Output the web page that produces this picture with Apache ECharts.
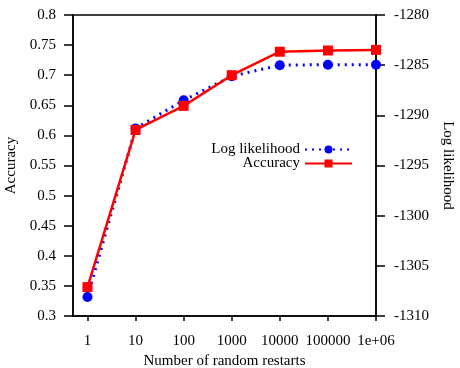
<!DOCTYPE html>
<html>
<head>
<meta charset="utf-8">
<script src="https://cdn.jsdelivr.net/npm/echarts@6/dist/echarts.min.js"></script>
<style>
  html, body { margin: 0; padding: 0; background: #fff; }
  #main { width: 460px; height: 368px; }
</style>
</head>
<body>
<div id="main"></div>
<script>
// restarts on the x axis
var restarts = [1, 10, 100, 1000, 10000, 100000, 1000000]
var restartLabels = ['1', '10', '100', '1000', '10000', '100000', '1e+06']
// left axis
var accuracy = [0.348, 0.609, 0.649, 0.700, 0.739, 0.741, 0.742]
// right axis
var logLikelihood = [-1308.1, -1291.3, -1288.5, -1286.1, -1285.0, -1284.95, -1284.95]

var font = 'Liberation Serif'
var fs = 15
var myChart = echarts.init(document.getElementById('main'))

var option = {
  backgroundColor: '#fff',
  textStyle: { fontFamily: font },
  animation: false,
  grid: {
    left: 73,
    right: 84,
    top: 15,
    bottom: 52,
    outerBoundsMode: 'none',
    containLabel: false,
    show: true,
    borderColor: '#000',
    borderWidth: 1.5
  },
  legend: {
    orient: 'vertical',
    right: 102,
    top: 137,
    align: 'right',
    itemWidth: 47,
    itemHeight: 10,
    itemGap: -1,
    textStyle: { fontFamily: font, fontSize: fs, color: '#000' },
    data: ['Log likelihood', 'Accuracy']
  },
  xAxis: {
    type: 'log',
    logBase: 10,
    min: 0.5,
    max: 1000000,
    name: 'Number of random restarts',
    nameLocation: 'middle',
    nameGap: 38,
    nameTextStyle: { fontFamily: font, fontSize: fs, color: '#000' },
    axisLine: { lineStyle: { color: '#000', width: 1.5 } },
    axisTick: { length: 5, lineStyle: { color: '#000', width: 1.5 }, customValues: restarts },
    axisLabel: {
      fontFamily: font,
      fontSize: fs,
      color: '#000',
      margin: 18,
      customValues: restarts,
      formatter: function (v) {
        var i = restarts.indexOf(v)
        return i >= 0 ? restartLabels[i] : ''
      }
    },
    splitLine: { show: false },
    minorTick: { show: false }
  },
  yAxis: [
    {
      type: 'value',
      min: 0.3,
      max: 0.8,
      interval: 0.05,
      name: 'Accuracy',
      nameLocation: 'middle',
      nameGap: 54,
      nameTextStyle: { fontFamily: font, fontSize: fs, color: '#000' },
      axisLine: { show: true, lineStyle: { color: '#000', width: 1.5 } },
      axisTick: { show: true, length: 9, lineStyle: { color: '#000', width: 1.5 } },
      axisLabel: {
        fontFamily: font,
        fontSize: fs,
        color: '#000',
        margin: 17,
        formatter: function (v) { return String(+v.toFixed(2)) }
      },
      splitLine: { show: false }
    },
    {
      type: 'value',
      min: -1310,
      max: -1280,
      interval: 5,
      position: 'right',
      name: 'Log likelihood',
      nameLocation: 'middle',
      nameRotate: -90,
      nameGap: 64,
      nameTextStyle: { fontFamily: font, fontSize: fs, color: '#000' },
      axisLine: { show: true, lineStyle: { color: '#000', width: 1.5 } },
      axisTick: { show: true, length: 9, lineStyle: { color: '#000', width: 1.5 } },
      axisLabel: {
        fontFamily: font,
        fontSize: fs,
        color: '#000',
        margin: 18,
        formatter: function (v) { return String(v) }
      },
      splitLine: { show: false }
    }
  ],
  series: [
    {
      name: 'Log likelihood',
      type: 'line',
      yAxisIndex: 1,
      data: restarts.map(function (r, i) { return [r, logLikelihood[i]] }),
      symbol: 'circle',
      symbolSize: 10,
      lineStyle: { color: '#0000ff', width: 3, type: [2, 5] },
      itemStyle: { color: '#0000ff' }
    },
    {
      name: 'Accuracy',
      type: 'line',
      yAxisIndex: 0,
      data: restarts.map(function (r, i) { return [r, accuracy[i]] }),
      symbol: 'rect',
      symbolSize: 10,
      lineStyle: { color: '#ff0000', width: 2.5 },
      itemStyle: { color: '#ff0000' }
    }
  ]
}

myChart.setOption(option)
</script>
</body>
</html>
